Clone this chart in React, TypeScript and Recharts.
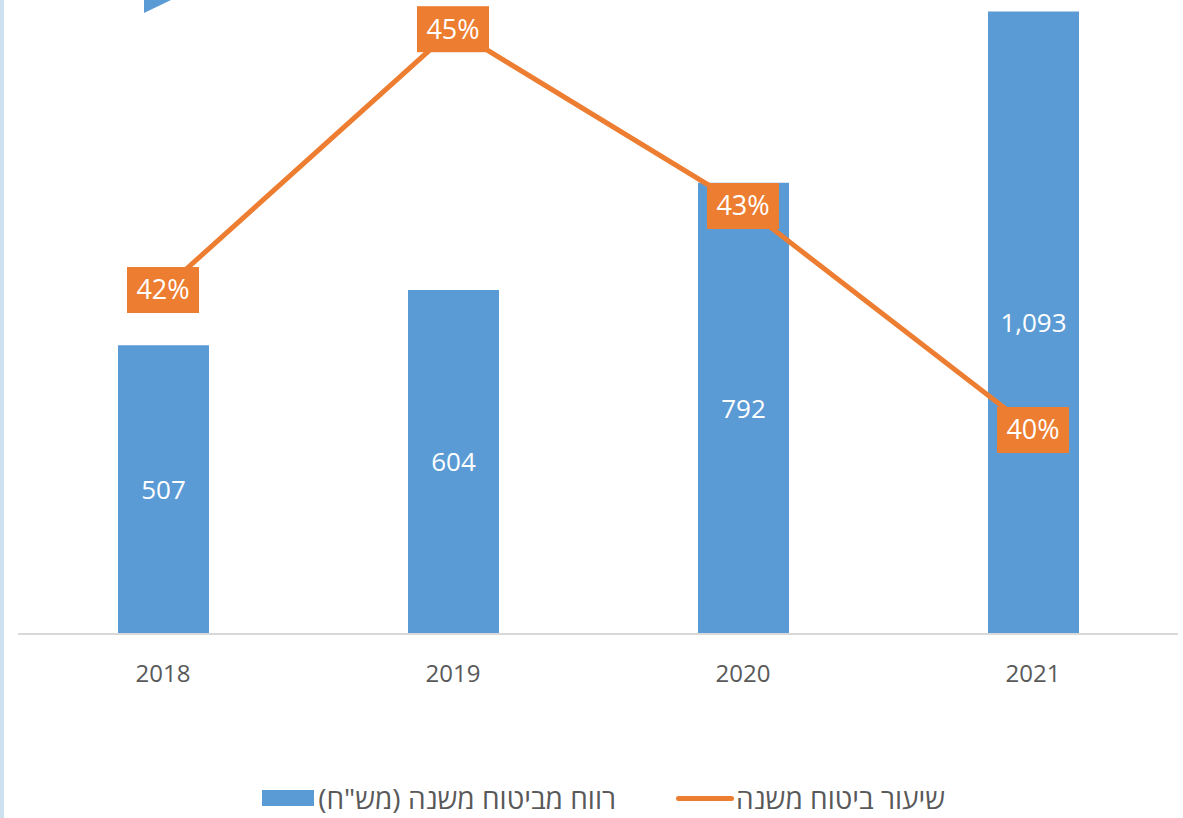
import React from 'react';
import { ComposedChart, Bar, Line, XAxis, YAxis, Legend, LabelList } from 'recharts';

const years = ['2018', '2019', '2020', '2021'];
const profit = [507, 604, 792, 1093];
const ratePct = [41.8, 45.06, 42.85, 40.05];

const barName = 'רווח מביטוח משנה (מש"ח)';
const lineName = 'שיעור ביטוח משנה';

const data = years.map((y, i) => ({ year: y, profit: profit[i], rate: ratePct[i] }));

const FONT = "'Open Sans', 'DejaVu Sans', sans-serif";
const BLUE = '#5B9BD5';
const ORANGE = '#ED7D31';
const GREY_TEXT = '#595959';

const PctLabel = (props: any) => {
  const { x, y, value } = props;
  if (x == null || y == null) return null;
  return (
    <g>
      <rect x={x - 36} y={y - 23} width={72} height={46} fill={ORANGE} />
      <text x={x} y={y} dy="0.35em" textAnchor="middle" fill="#ffffff" fontSize={27} fontFamily={FONT}>
        {Math.round(value)}%
      </text>
    </g>
  );
};

const fmtNum = (v: any) => Number(v).toLocaleString('en-US');

const LegendContent = () => (
  <div
    style={{
      direction: 'rtl',
      display: 'flex',
      alignItems: 'center',
      justifyContent: 'flex-start',
      width: 1183,
      height: 40,
      paddingRight: 238,
      boxSizing: 'border-box',
      fontFamily: FONT,
      fontSize: 28,
      color: GREY_TEXT,
      gap: 60,
    }}
  >
    <div style={{ display: 'flex', alignItems: 'center' }}>
      <span>{lineName}</span>
      <span
        style={{
          display: 'inline-block',
          width: 58,
          height: 5,
          borderRadius: 3,
          background: ORANGE,
          marginRight: 2,
        }}
      />
    </div>
    <div style={{ display: 'flex', alignItems: 'center' }}>
      <span>{barName}</span>
      <span
        style={{
          display: 'inline-block',
          width: 52,
          height: 16,
          background: BLUE,
          marginRight: 4,
        }}
      />
    </div>
  </div>
);

export default function App() {
  return (
    <div style={{ position: 'absolute', left: 0, top: 0, width: 1183, height: 818, background: '#ffffff', overflow: 'hidden' }}>
      <div style={{ position: 'absolute', left: 0, top: 0, width: 4, height: 818, background: '#CFE0F1' }} />
      <svg style={{ position: 'absolute', left: 0, top: 0 }} width={200} height={20}>
        <polygon points="144,0 171,0 144,13" fill={BLUE} />
      </svg>
      <div style={{ position: 'absolute', left: 0, top: 0 }}>
        <ComposedChart
          width={1183}
          height={818}
          data={data}
          margin={{ top: 0, left: 18, right: 5, bottom: 0 }}
          style={{ fontFamily: FONT }}
        >
          <XAxis
            dataKey="year"
            height={144}
            tickLine={false}
            tickSize={0}
            tickMargin={31}
            axisLine={{ stroke: '#D9D9D9', strokeWidth: 2 }}
            tick={{ fill: GREY_TEXT, fontSize: 24, fontFamily: FONT }}
          />
          <YAxis yAxisId="left" hide domain={[0, 1113]} />
          <YAxis yAxisId="right" hide orientation="right" domain={[37.5, 45.425]} />
          <Legend
            verticalAlign="bottom"
            height={40}
            content={<LegendContent />}
            wrapperStyle={{ left: 0, width: 1183 }}
          />
          <Bar yAxisId="left" dataKey="profit" name={barName} fill={BLUE} barSize={91} isAnimationActive={false}>
            <LabelList
              dataKey="profit"
              position="center"
              formatter={fmtNum}
              fill="#ffffff"
              fontSize={26}
              fontFamily={FONT}
            />
          </Bar>
          <Line
            yAxisId="right"
            dataKey="rate"
            name={lineName}
            stroke={ORANGE}
            strokeWidth={5}
            dot={false}
            activeDot={false}
            isAnimationActive={false}
          >
            <LabelList dataKey="rate" content={<PctLabel />} />
          </Line>
        </ComposedChart>
      </div>
    </div>
  );
}
